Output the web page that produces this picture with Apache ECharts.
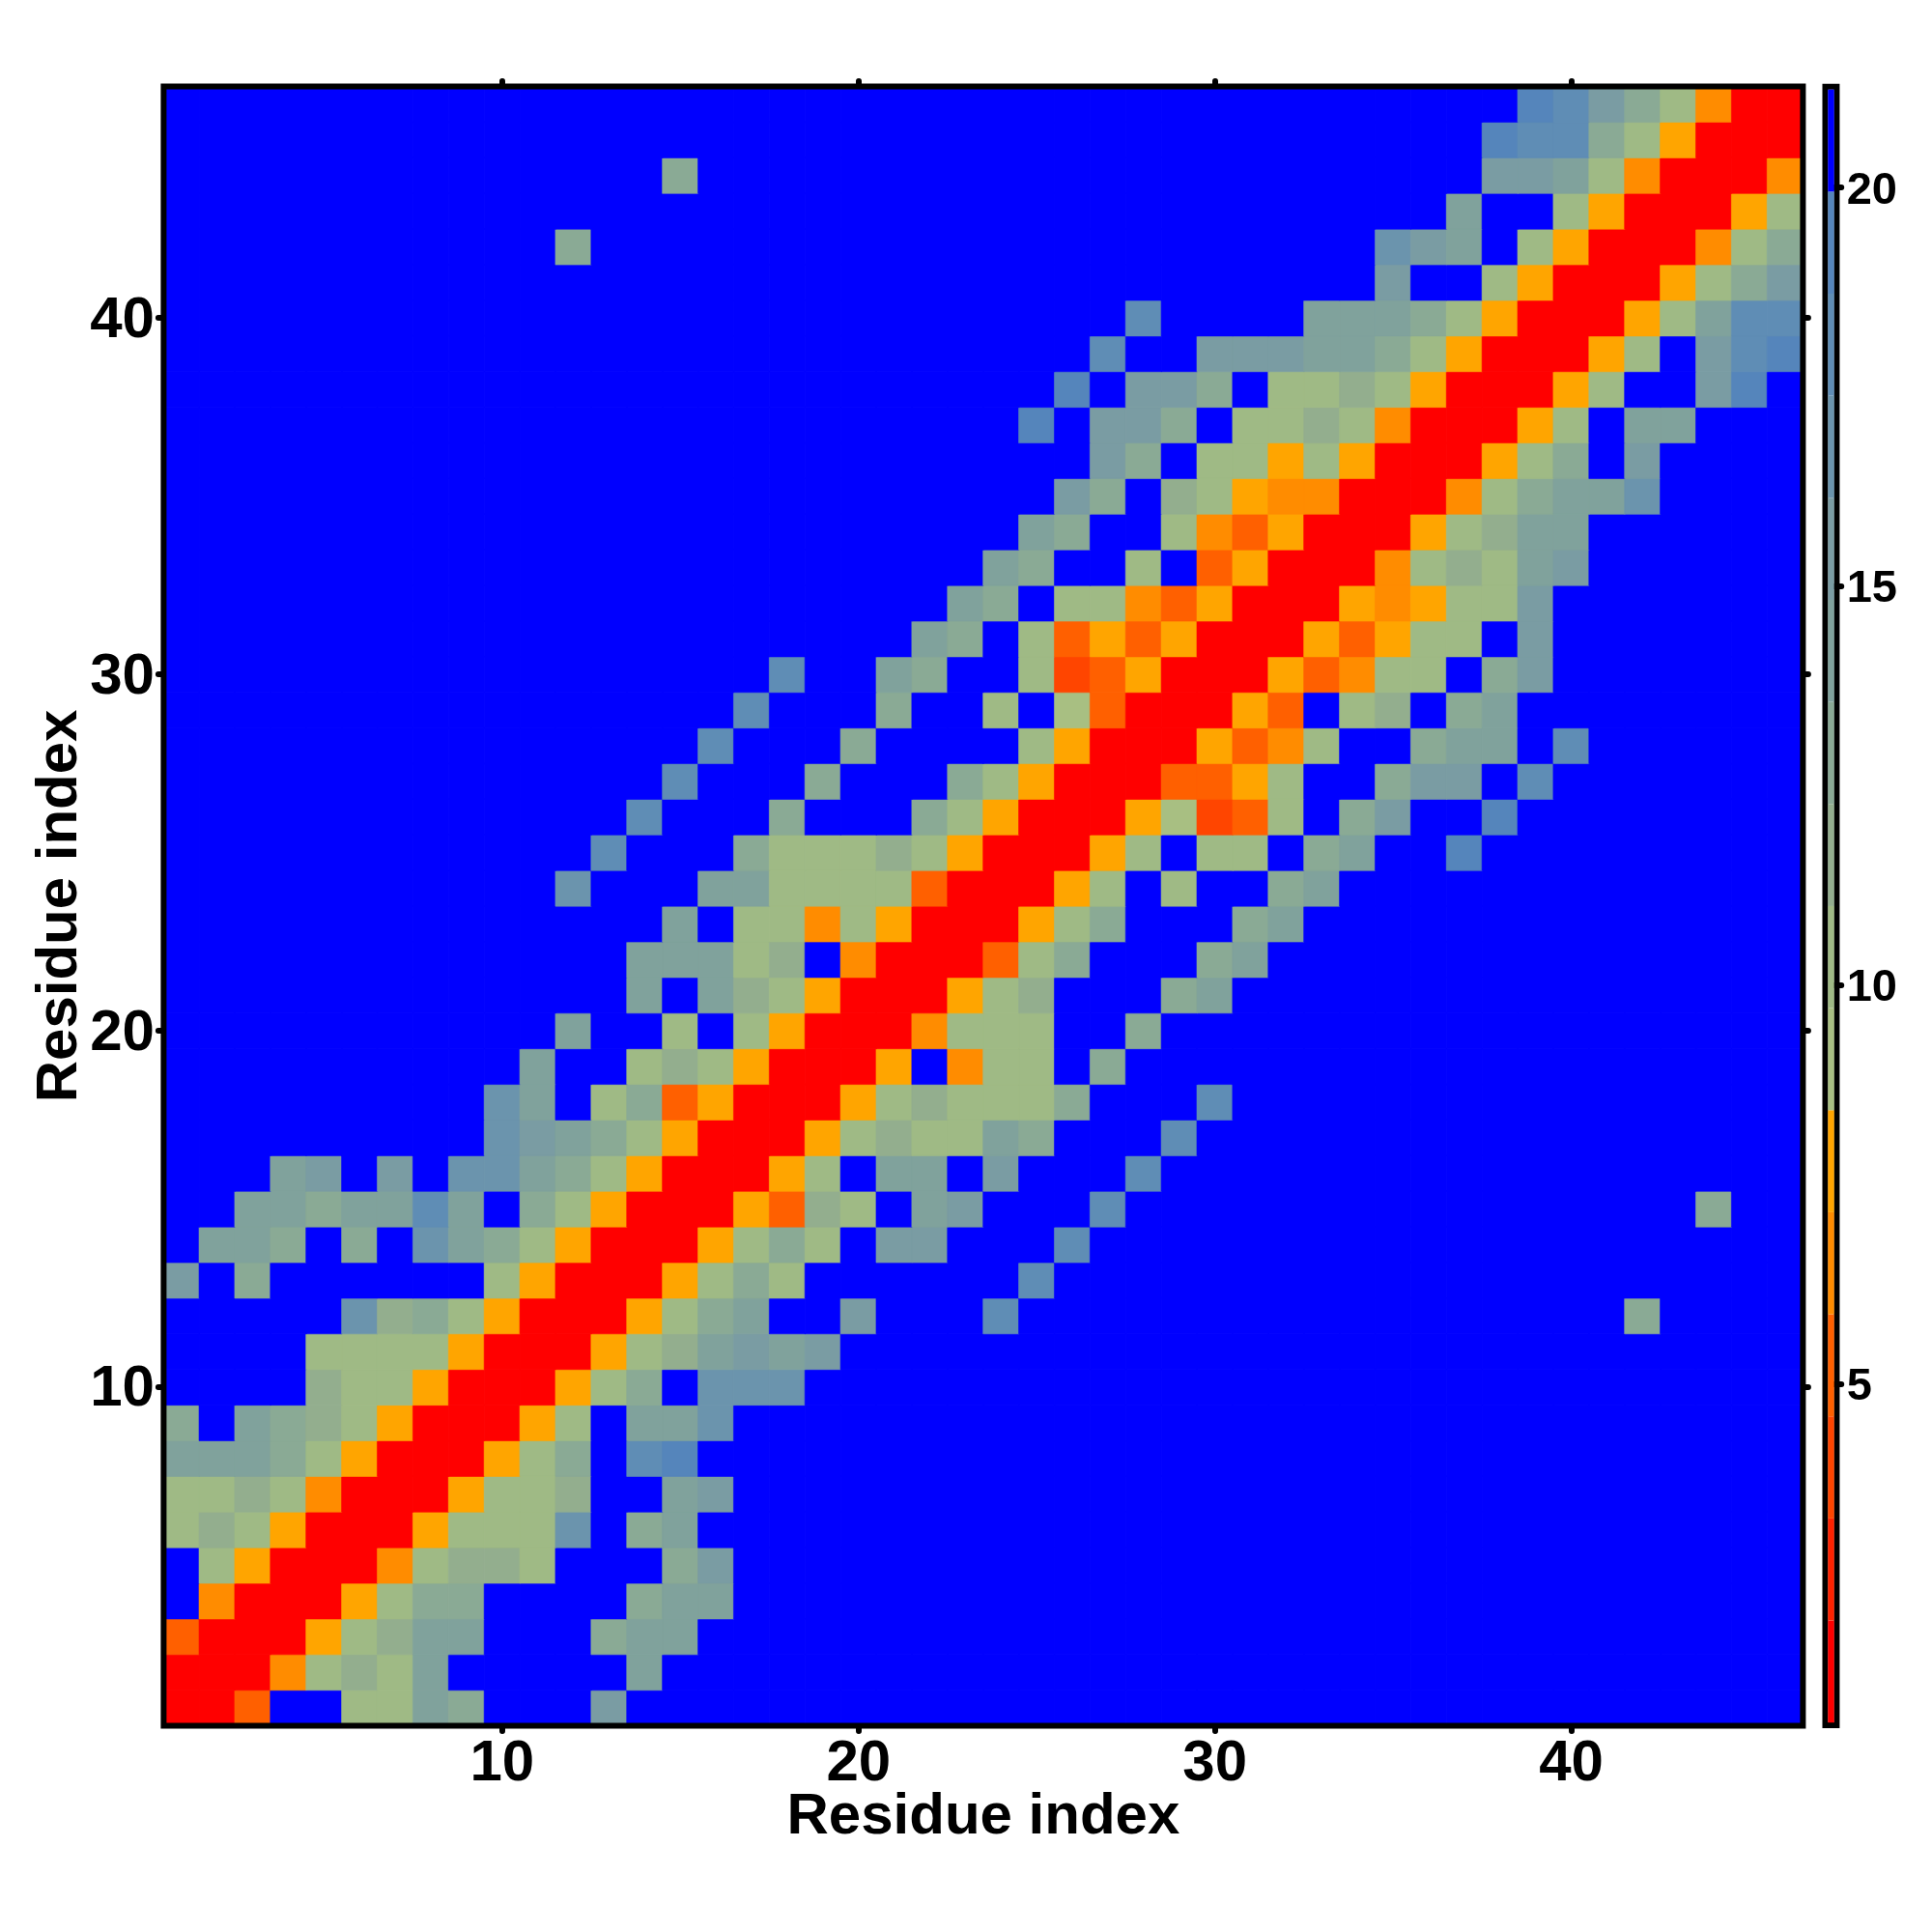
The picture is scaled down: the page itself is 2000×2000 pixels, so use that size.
<!DOCTYPE html>
<html><head><meta charset="utf-8">
<style>html,body{margin:0;padding:0;background:#fff}#c{width:2000px;height:2000px}</style>
<script src="https://cdn.jsdelivr.net/npm/echarts@6/dist/echarts.min.js"></script>
</head><body><div id="c"></div>
<script>
const residues = [1,2,3,4,5,6,7,8,9,10,11,12,13,14,15,16,17,18,19,20,21,22,23,24,25,26,27,28,29,30,31,32,33,34,35,36,37,38,39,40,41,42,43,44,45,46];
const tickResidues = [10,20,30,40];
const colorbarTicks = [5,10,15,20];
const colorbarMin = 0.75;
const colorbarStep = 1.28;
const colorbarColors = ['#ff0000','#ff2200','#ff4500','#ff6000','#ff8c00','#ffa500','#a8bf82','#9fba85','#93ae8e','#8aaa95','#80a29c','#7a9ca3','#6b94ad','#5f8db5','#5585bb','#0000ff'];
const axisTitle = 'Residue index';
// Distance values, one row per residue index on the vertical axis, bottom row first.
const row1  = [1,1,5,21,21,10,10,14,13,21, 21,21,15,21,21,21,21,21,21,21, 21,21,21,21,21,21,21,21,21,21, 21,21,21,21,21,21,21,21,21,21, 21,21,21,21,21,21];
const row2  = [1,1,1,6,10,12,10,14,21,21, 21,21,21,14,21,21,21,21,21,21, 21,21,21,21,21,21,21,21,21,21, 21,21,21,21,21,21,21,21,21,21, 21,21,21,21,21,21];
const row3  = [5,1,1,1,8,10,12,14,14,21, 21,21,13,14,14,21,21,21,21,21, 21,21,21,21,21,21,21,21,21,21, 21,21,21,21,21,21,21,21,21,21, 21,21,21,21,21,21];
const row4  = [21,6,1,1,1,8,10,13,13,21, 21,21,21,13,14,14,21,21,21,21, 21,21,21,21,21,21,21,21,21,21, 21,21,21,21,21,21,21,21,21,21, 21,21,21,21,21,21];
const row5  = [21,10,8,1,1,1,6,10,12,12, 10,21,21,21,13,15,21,21,21,21, 21,21,21,21,21,21,21,21,21,21, 21,21,21,21,21,21,21,21,21,21, 21,21,21,21,21,21];
const row6  = [10,12,10,8,1,1,1,8,10,10, 10,17,21,13,14,21,21,21,21,21, 21,21,21,21,21,21,21,21,21,21, 21,21,21,21,21,21,21,21,21,21, 21,21,21,21,21,21];
const row7  = [10,10,12,10,6,1,1,1,8,10, 10,12,21,21,14,15,21,21,21,21, 21,21,21,21,21,21,21,21,21,21, 21,21,21,21,21,21,21,21,21,21, 21,21,21,21,21,21];
const row8  = [14,14,14,13,10,8,1,1,1,8, 10,13,21,18,19,21,21,21,21,21, 21,21,21,21,21,21,21,21,21,21, 21,21,21,21,21,21,21,21,21,21, 21,21,21,21,21,21];
const row9  = [13,21,14,13,12,10,8,1,1,1, 8,10,21,14,14,17,21,21,21,21, 21,21,21,21,21,21,21,21,21,21, 21,21,21,21,21,21,21,21,21,21, 21,21,21,21,21,21];
const row10 = [21,21,21,21,12,10,10,8,1,1, 1,8,10,13,21,17,17,17,21,21, 21,21,21,21,21,21,21,21,21,21, 21,21,21,21,21,21,21,21,21,21, 21,21,21,21,21,21];
const row11 = [21,21,21,21,10,10,10,10,8,1, 1,1,8,10,12,14,15,14,15,21, 21,21,21,21,21,21,21,21,21,21, 21,21,21,21,21,21,21,21,21,21, 21,21,21,21,21,21];
const row12 = [21,21,21,21,21,17,12,13,10,8, 1,1,1,8,10,13,14,21,21,15, 21,21,21,18,21,21,21,21,21,21, 21,21,21,21,21,21,21,21,21,21, 21,13,21,21,21,21];
const row13 = [15,21,13,21,21,21,21,21,21,10, 8,1,1,1,8,10,13,10,21,21, 21,21,21,21,18,21,21,21,21,21, 21,21,21,21,21,21,21,21,21,21, 21,21,21,21,21,21];
const row14 = [21,14,14,13,21,13,21,17,14,13, 10,8,1,1,1,8,10,13,10,21, 15,15,21,21,21,18,21,21,21,21, 21,21,21,21,21,21,21,21,21,21, 21,21,21,21,21,21];
const row15 = [21,21,14,14,13,14,14,18,14,21, 13,10,8,1,1,1,8,5,12,10, 21,14,15,21,21,21,18,21,21,21, 21,21,21,21,21,21,21,21,21,21, 21,21,21,13,21,21];
const row16 = [21,21,21,14,15,21,15,21,17,17, 14,13,10,8,1,1,1,8,10,21, 14,14,21,15,21,21,21,18,21,21, 21,21,21,21,21,21,21,21,21,21, 21,21,21,21,21,21];
const row17 = [21,21,21,21,21,21,21,21,21,17, 15,14,13,10,8,1,1,1,8,10, 12,10,10,14,13,21,21,21,18,21, 21,21,21,21,21,21,21,21,21,21, 21,21,21,21,21,21];
const row18 = [21,21,21,21,21,21,21,21,21,17, 14,21,10,13,5,8,1,1,1,8, 10,12,10,10,10,13,21,21,21,18, 21,21,21,21,21,21,21,21,21,21, 21,21,21,21,21,21];
const row19 = [21,21,21,21,21,21,21,21,21,21, 14,21,21,10,12,10,8,1,1,1, 8,21,6,10,10,21,13,21,21,21, 21,21,21,21,21,21,21,21,21,21, 21,21,21,21,21,21];
const row20 = [21,21,21,21,21,21,21,21,21,21, 21,14,21,21,10,21,10,8,1,1, 1,6,10,10,10,21,21,13,21,21, 21,21,21,21,21,21,21,21,21,21, 21,21,21,21,21,21];
const row21 = [21,21,21,21,21,21,21,21,21,21, 21,21,21,14,21,14,12,10,8,1, 1,1,8,10,12,21,21,21,13,14, 21,21,21,21,21,21,21,21,21,21, 21,21,21,21,21,21];
const row22 = [21,21,21,21,21,21,21,21,21,21, 21,21,21,14,14,14,10,12,21,6, 1,1,1,5,10,13,21,21,21,13, 14,21,21,21,21,21,21,21,21,21, 21,21,21,21,21,21];
const row23 = [21,21,21,21,21,21,21,21,21,21, 21,21,21,21,14,21,10,10,6,10, 8,1,1,1,8,10,13,21,21,21, 13,14,21,21,21,21,21,21,21,21, 21,21,21,21,21,21];
const row24 = [21,21,21,21,21,21,21,21,21,21, 21,17,21,21,21,14,14,10,10,10, 10,5,1,1,1,8,10,21,10,21, 21,13,14,21,21,21,21,21,21,21, 21,21,21,21,21,21];
const row25 = [21,21,21,21,21,21,21,21,21,21, 21,21,18,21,21,21,13,10,10,10, 12,10,8,1,1,1,8,10,21,10, 10,21,13,14,21,21,19,21,21,21, 21,21,21,21,21,21];
const row26 = [21,21,21,21,21,21,21,21,21,21, 21,21,21,18,21,21,21,13,21,21, 21,13,10,8,1,1,1,8,9,4, 5,10,21,13,15,21,21,19,21,21, 21,21,21,21,21,21];
const row27 = [21,21,21,21,21,21,21,21,21,21, 21,21,21,21,18,21,21,21,13,21, 21,21,13,10,8,1,1,1,5,5, 8,10,21,21,13,15,15,21,18,21, 21,21,21,21,21,21];
const row28 = [21,21,21,21,21,21,21,21,21,21, 21,21,21,21,21,18,21,21,21,13, 21,21,21,21,10,8,1,1,1,8, 5,6,10,21,21,13,14,14,21,18, 21,21,21,21,21,21];
const row29 = [21,21,21,21,21,21,21,21,21,21, 21,21,21,21,21,21,18,21,21,21, 13,21,21,10,21,9,5,1,1,1, 8,5,21,10,12,21,13,14,21,21, 21,21,21,21,21,21];
const row30 = [21,21,21,21,21,21,21,21,21,21, 21,21,21,21,21,21,21,18,21,21, 14,13,21,21,10,4,5,8,1,1, 1,8,5,6,10,10,21,13,15,21, 21,21,21,21,21,21];
const row31 = [21,21,21,21,21,21,21,21,21,21, 21,21,21,21,21,21,21,21,21,21, 21,14,13,21,10,5,8,5,8,1, 1,1,8,5,8,10,10,21,15,21, 21,21,21,21,21,21];
const row32 = [21,21,21,21,21,21,21,21,21,21, 21,21,21,21,21,21,21,21,21,21, 21,21,14,13,21,10,10,6,5,8, 1,1,1,8,6,8,10,10,15,21, 21,21,21,21,21,21];
const row33 = [21,21,21,21,21,21,21,21,21,21, 21,21,21,21,21,21,21,21,21,21, 21,21,21,14,13,21,21,10,21,5, 8,1,1,1,6,10,12,10,14,15, 21,21,21,21,21,21];
const row34 = [21,21,21,21,21,21,21,21,21,21, 21,21,21,21,21,21,21,21,21,21, 21,21,21,21,14,13,21,21,10,6, 5,8,1,1,1,8,10,12,14,14, 21,21,21,21,21,21];
const row35 = [21,21,21,21,21,21,21,21,21,21, 21,21,21,21,21,21,21,21,21,21, 21,21,21,21,21,15,13,21,12,10, 8,6,6,1,1,1,6,10,13,14, 14,17,21,21,21,21];
const row36 = [21,21,21,21,21,21,21,21,21,21, 21,21,21,21,21,21,21,21,21,21, 21,21,21,21,21,21,15,13,21,10, 10,8,10,8,1,1,1,8,10,13, 21,15,21,21,21,21];
const row37 = [21,21,21,21,21,21,21,21,21,21, 21,21,21,21,21,21,21,21,21,21, 21,21,21,21,19,21,15,15,13,21, 10,10,12,10,6,1,1,1,8,10, 21,14,14,21,21,21];
const row38 = [21,21,21,21,21,21,21,21,21,21, 21,21,21,21,21,21,21,21,21,21, 21,21,21,21,21,19,21,15,15,13, 21,10,10,12,10,8,1,1,1,8, 10,21,21,15,19,21];
const row39 = [21,21,21,21,21,21,21,21,21,21, 21,21,21,21,21,21,21,21,21,21, 21,21,21,21,21,21,18,21,21,15, 15,15,14,14,13,10,8,1,1,1, 8,10,21,15,18,19];
const row40 = [21,21,21,21,21,21,21,21,21,21, 21,21,21,21,21,21,21,21,21,21, 21,21,21,21,21,21,21,18,21,21, 21,21,14,14,14,13,10,8,1,1, 1,8,10,14,18,18];
const row41 = [21,21,21,21,21,21,21,21,21,21, 21,21,21,21,21,21,21,21,21,21, 21,21,21,21,21,21,21,21,21,21, 21,21,21,21,15,21,21,10,8,1, 1,1,8,10,13,15];
const row42 = [21,21,21,21,21,21,21,21,21,21, 21,13,21,21,21,21,21,21,21,21, 21,21,21,21,21,21,21,21,21,21, 21,21,21,21,17,15,14,21,10,8, 1,1,1,6,10,13];
const row43 = [21,21,21,21,21,21,21,21,21,21, 21,21,21,21,21,21,21,21,21,21, 21,21,21,21,21,21,21,21,21,21, 21,21,21,21,21,21,14,21,21,10, 8,1,1,1,8,10];
const row44 = [21,21,21,21,21,21,21,21,21,21, 21,21,21,21,13,21,21,21,21,21, 21,21,21,21,21,21,21,21,21,21, 21,21,21,21,21,21,21,15,15,14, 10,6,1,1,1,6];
const row45 = [21,21,21,21,21,21,21,21,21,21, 21,21,21,21,21,21,21,21,21,21, 21,21,21,21,21,21,21,21,21,21, 21,21,21,21,21,21,21,19,18,18, 13,10,8,1,1,1];
const row46 = [21,21,21,21,21,21,21,21,21,21, 21,21,21,21,21,21,21,21,21,21, 21,21,21,21,21,21,21,21,21,21, 21,21,21,21,21,21,21,21,19,18, 15,13,10,6,1,1];

const rows = [row1,row2,row3,row4,row5,row6,row7,row8,row9,row10,row11,row12,row13,row14,row15,row16,row17,row18,row19,row20,row21,row22,row23,row24,row25,row26,row27,row28,row29,row30,row31,row32,row33,row34,row35,row36,row37,row38,row39,row40,row41,row42,row43,row44,row45,row46];
const levelColor = v => colorbarColors[Math.floor((v - colorbarMin) / colorbarStep)];
const cells = [];
rows.forEach((r, y) => r.forEach((v, x) => cells.push({
  value: [x, y, v],
  itemStyle: {opacity: 1, borderColor: levelColor(v), borderWidth: 0.6}
})));

const pieces = colorbarColors.map((color, k) => ({
  min: colorbarMin + colorbarStep * k,
  max: colorbarMin + colorbarStep * (k + 1),
  color
}));

const FONT = '"Liberation Sans", Arial, sans-serif';
const isTick = (_, label) => tickResidues.includes(+label);
const tick = {show: true, alignWithLabel: true, interval: (i, v) => tickResidues.includes(+v), length: 5.5, inside: false,
  lineStyle: {color: '#000', width: 6, cap: 'round'}};
const labelStyle = {color: '#000', fontFamily: FONT, fontWeight: 'bold', fontSize: 60};
const nameStyle = {color: '#000', fontFamily: FONT, fontWeight: 'bold', fontSize: 60};

const colorbarSeries = colorbarColors.map((color, k) => ({
  type: 'bar', xAxisIndex: 2, yAxisIndex: 2, stack: 'bar', barWidth: '100%', silent: true,
  itemStyle: {color}, data: [k === 0 ? colorbarMin + colorbarStep : colorbarStep]
}));

const chart = echarts.init(document.getElementById('c'), null, {renderer: 'canvas'});
chart.setOption({
  backgroundColor: '#fff',
  animation: false,
  grid: [
    {left: 169.4, top: 89.4, width: 1697, height: 1697, show: false, outerBoundsMode: 'none'},
    {left: 1892.3, top: 92.7, width: 6.4, height: 1690.5, show: false, outerBoundsMode: 'none'},
    {left: 1889.5, top: 89.7, width: 11.9, height: 1696.3, show: true, borderColor: '#000', borderWidth: 6, backgroundColor: 'transparent', outerBoundsMode: 'none'}
  ],
  graphic: [{type: 'rect', silent: true, z: 100,
    shape: {x: 169.4, y: 89.4, width: 1697, height: 1697},
    style: {fill: 'transparent', stroke: '#000', lineWidth: 6}}],
  xAxis: [
    {type: 'category', gridIndex: 0, position: 'bottom', data: residues, axisLine: {show: false},
     axisTick: tick, axisLabel: {...labelStyle, interval: isTick, margin: 9.6, hideOverlap: false},
     name: axisTitle, nameLocation: 'middle', nameGap: 64.6, nameMoveOverlap: false, nameTextStyle: nameStyle, splitLine: {show: false}},
    {type: 'category', gridIndex: 0, position: 'top', data: residues, axisLine: {show: false},
     axisTick: tick, axisLabel: {show: false}, splitLine: {show: false}},
    {type: 'category', gridIndex: 1, data: ['bar'], show: false}
  ],
  yAxis: [
    {type: 'category', gridIndex: 0, position: 'left', data: residues, axisLine: {show: false},
     axisTick: tick, axisLabel: {...labelStyle, interval: isTick, margin: 9.5, verticalAlign: 'top', lineHeight: 6, hideOverlap: false},
     name: axisTitle, nameLocation: 'middle', nameGap: 77.4, nameMoveOverlap: false, nameRotate: 90, nameTextStyle: nameStyle, splitLine: {show: false}},
    {type: 'category', gridIndex: 0, position: 'right', data: residues, axisLine: {show: false},
     axisTick: tick, axisLabel: {show: false}, splitLine: {show: false}},
    {type: 'value', gridIndex: 1, position: 'right', min: colorbarMin, max: colorbarMin + colorbarStep * 16,
     axisLine: {show: false}, splitLine: {show: false},
     axisTick: {show: true, customValues: colorbarTicks, length: 7.5, lineStyle: {color: '#000', width: 6, cap: 'round'}},
     axisLabel: {customValues: colorbarTicks, margin: 13, verticalAlign: 'top', lineHeight: 7, color: '#000', fontFamily: FONT, fontWeight: 'bold', fontSize: 47, showMinLabel: true, showMaxLabel: true}}
  ],
  visualMap: {type: 'piecewise', show: false, seriesIndex: 0, dimension: 2, pieces},
  series: [
    {type: 'heatmap', xAxisIndex: 0, yAxisIndex: 0, data: cells, progressive: 0, silent: true, itemStyle: {borderWidth: 0}},
    ...colorbarSeries
  ]
});
</script></body></html>
